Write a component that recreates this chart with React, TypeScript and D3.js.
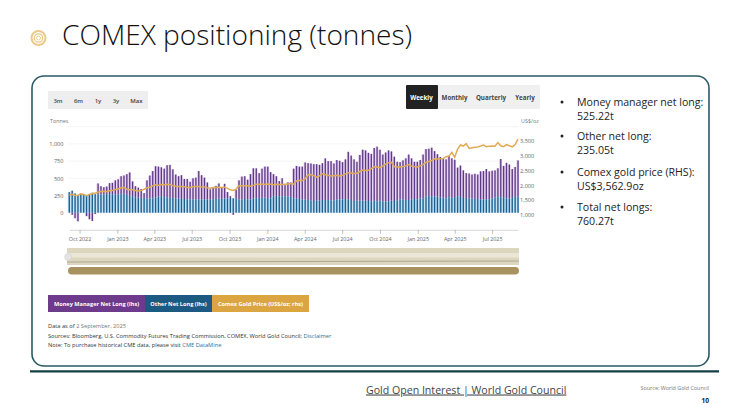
import React, { useRef, useEffect } from "react";
import * as d3 from "d3";

// tonnes, weekly from 6 Sep 2022 to 2 Sep 2025
const otherNetLong = [
  290, 320, 280, 255, 260, 265, 255, 260, 290, 270,
  265, 265, 265, 270, 270, 268, 262, 262, 270, 275, 260, 245,
  240, 225, 220, 215, 215, 205, 210, 205, 220, 235, 240, 225, 225, 215,
  215, 210, 205, 200, 200, 195, 195, 195, 190, 190, 195,
  195, 190, 190, 195, 200, 205, 200, 205, 210, 215, 210, 205, 190, 190,
  200, 195, 190, 205, 210, 215, 215, 220, 215, 205, 235, 245, 240, 235, 240, 235, 230, 210, 205, 200,
  190, 190, 185, 180, 170, 175, 180, 185, 185, 185, 180, 180, 190, 195, 195, 200, 195, 185, 170, 175, 175, 175, 175, 170,
  165, 175, 165, 180, 160, 165, 165, 175, 170, 180, 190, 195, 185, 185, 195, 200, 195, 205, 210, 235, 245, 240, 235, 235, 220, 220, 205, 225, 225,
  215, 240, 230, 215, 215, 205, 205, 200, 200, 190, 190, 195, 195, 205, 220, 240, 225, 225, 210, 205, 225, 230, 235,
];
const moneyManagerNetLong = [
  10, -30, -80, -125, 15, 5, -50, -95, -120, -20,
  160, 120, 105, 110, 160, 167, 208, 223, 260, 265, 300, 340,
  215, 160, 145, 130, 70, 265, 330, 400, 455, 435, 420, 415, 465, 480,
  415, 345, 325, 345, 290, 295, 255, 305, 320, 415, 350,
  315, 250, 150, 175, 190, 220, 170, 215, 90, 25, -30, 125, 280, 335,
  330, 285, 370, 440, 435, 360, 425, 450, 455, 385, 325, 285, 220, 265, 160, 205, 210, 430, 475, 470,
  480, 540, 535, 535, 535, 530, 515, 535, 605, 565, 570, 535, 575, 560, 540, 575, 690, 645, 605, 565, 665, 740, 730, 700,
  690, 765, 795, 735, 685, 710, 740, 715, 645, 560, 545, 565, 605, 660, 595, 540, 545, 560, 635, 690, 685, 705, 660, 615, 590, 570, 570, 600, 565,
  555, 415, 455, 400, 360, 365, 350, 365, 355, 410, 415, 440, 405, 405, 395, 405, 555, 455, 515, 495, 410, 435, 525,
];
// US$/oz
const goldPrice = [
  1680, 1700, 1660, 1670, 1720, 1690, 1650, 1700, 1720, 1740,
  1770, 1790, 1800, 1790, 1820, 1830, 1860,
  1880, 1920, 1930, 1870, 1850, 1850,
  1830, 1815, 1830, 1870, 1920, 1940, 1985,
  2020, 2000, 2030, 2020, 2040, 2030, 1990,
  1970, 1965, 1960, 1955, 1930, 1930, 1955, 1960, 1960, 1950,
  1945, 1920, 1905, 1925, 1930, 1940, 1930, 1940, 1900, 1850,
  1830, 1875, 1990, 1985, 1990, 1990, 1975, 2000, 2040, 2035,
  2045, 2030, 2050, 2035, 2020, 2040, 2030, 2030, 2040, 2050,
  2060, 2040, 2150, 2170, 2165,
  2230, 2350, 2370, 2330, 2280, 2320, 2400, 2360, 2340, 2320, 2330, 2340, 2320, 2340, 2390, 2430, 2415, 2400, 2410,
  2470, 2520, 2500, 2510, 2570, 2630, 2625, 2600, 2655, 2720, 2770, 2780, 2630, 2620, 2625, 2635, 2660, 2700, 2650, 2630,
  2620, 2660, 2700, 2780, 2810, 2840, 2900, 2890, 2900, 2905, 2970, 2990, 3115, 2950, 3230, 3365, 3330, 3410, 3250, 3270,
  3290, 3300, 3330, 3365, 3310, 3320, 3330, 3320, 3445, 3340, 3310, 3375, 3340, 3300, 3380, 3563,
];
const weeks = d3.timeDay.range(new Date(2022, 8, 6), new Date(2025, 8, 3), 7);
const leftTicks = [-250, 0, 250, 500, 750, 1000, 1250];
const leftLabels = [0, 250, 500, 750, 1000];
const rightTicks = [1000, 1500, 2000, 2500, 3000, 3500];
const rangeButtons = ["3m", "6m", "1y", "3y", "Max"];
const freqButtons = ["Weekly", "Monthly", "Quarterly", "Yearly"];
const legendItems = ["Money Manager Net Long (lhs)", "Other Net Long (lhs)", "Comex Gold Price (US$/oz; rhs)"];
const bullets = [
  ["Money manager net long:", "525.22t"],
  ["Other net long:", "235.05t"],
  ["Comex gold price (RHS):", "US$3,562.9oz"],
  ["Total net longs:", "760.27t"],
];

const FONT = "'Open Sans', 'Noto Sans', sans-serif";
const TEAL = "#2a5a66";

function App() {
  const chartRef = useRef<SVGGElement>(null);

  useEffect(() => {
    if (!chartRef.current) {
      return;
    }
    const g = d3.select(chartRef.current);
    g.selectAll("*").remove();

    const x = d3
      .scaleTime()
      .domain([weeks[0], weeks[weeks.length - 1]])
      .range([69.3, 518]);
    const y = d3.scaleLinear().domain([-250, 1250]).range([229.9, 126.7]);
    const yPrice = d3.scaleLinear().domain([1000, 3500]).range([215, 141]);
    const step = x(weeks[1]) - x(weeks[0]);

    // grid
    g.append("g")
      .selectAll("line")
      .data(leftTicks.filter((d) => d > -250))
      .join("line")
      .attr("x1", 68)
      .attr("x2", 519)
      .attr("y1", (d) => y(d))
      .attr("y2", (d) => y(d))
      .attr("stroke", "#f0f0f0")
      .attr("stroke-width", 0.7);

    const rows = weeks.map((date, i) => ({
      date,
      other: otherNetLong[i],
      mm: moneyManagerNetLong[i],
    }));

    const bar = (
      cls: string,
      fill: string,
      width: number,
      y0: (d: (typeof rows)[0]) => number,
      y1: (d: (typeof rows)[0]) => number,
      dx: number
    ) =>
      g.append("g")
        .attr("class", cls)
        .selectAll("rect")
        .data(rows)
        .join("rect")
        .attr("x", (d) => x(d.date) + dx)
        .attr("width", width)
        .attr("y", (d) => y(Math.max(y0(d), y1(d))))
        .attr("height", (d) => Math.abs(y(y0(d)) - y(y1(d))))
        .attr("fill", fill);

    const mmLow = (d: (typeof rows)[0]) => (d.mm < 0 ? d.mm : d.other);
    const mmHigh = (d: (typeof rows)[0]) => (d.mm < 0 ? 0 : d.other + d.mm);

    // pale halves sit behind the dark stripes
    bar("pale-mm", "#d9c0e8", step - 0.3, mmLow, mmHigh, -step / 2);
    bar("pale-other", "#a5d1f0", step - 0.3, () => 0, (d) => d.other, -step / 2);
    bar("dark-mm", "#5c3a85", 1.25, mmLow, mmHigh, -0.6);
    bar("dark-other", "#205e8a", 1.25, () => 0, (d) => d.other, -0.6);

    const priceLine = d3
      .line<Date>()
      .x((d) => x(d))
      .y((_, i) => yPrice(goldPrice[i]));
    g.append("path")
      .datum(weeks)
      .attr("fill", "none")
      .attr("stroke", "#e0ab55")
      .attr("stroke-width", 1.5)
      .attr("d", priceLine);

    // axes
    const xAxis = g
      .append("g")
      .attr("transform", `translate(0,${y(-250)})`)
      .call(
        d3
          .axisBottom(x)
          .ticks(d3.timeMonth.every(3) as d3.TimeInterval)
          .tickFormat(d3.timeFormat("%b %Y") as any)
          .tickSize(4)
          .tickSizeOuter(0)
      );
    xAxis.select(".domain").attr("stroke", "#dedede").attr("stroke-width", 1.4);
    xAxis.selectAll(".tick line").attr("stroke", "#888").attr("stroke-width", 0.5);
    xAxis
      .selectAll("text")
      .attr("fill", "#666")
      .attr("font-size", 5.4)
      .attr("font-family", FONT)
      .attr("y", 7);

    const leftAxis = g
      .append("g")
      .attr("transform", "translate(66.5,0)")
      .call(d3.axisLeft(y).tickValues(leftLabels).tickSize(0).tickFormat(d3.format(",") as any));
    leftAxis.select(".domain").remove();
    leftAxis
      .selectAll("text")
      .attr("fill", "#666")
      .attr("font-size", 5.6)
      .attr("font-family", FONT);

    const rightAxis = g
      .append("g")
      .attr("transform", "translate(517,0)")
      .call(d3.axisRight(yPrice).tickValues(rightTicks).tickSize(0).tickFormat(d3.format(",") as any));
    rightAxis.select(".domain").remove();
    rightAxis
      .selectAll("text")
      .attr("fill", "#666")
      .attr("font-size", 5.6)
      .attr("font-family", FONT);
  }, []);

  return (
    <svg
      width={740}
      height={416}
      style={{ position: "absolute", left: 0, top: 0, background: "#fff" }}
      fontFamily={FONT}
    >
      {/* title */}
      <g fill="none" stroke="#ecc98d">
        <circle cx={38.5} cy={38} r={7} strokeWidth={2} />
        <circle cx={38.5} cy={38} r={4.2} strokeWidth={1.2} />
        <circle cx={38.5} cy={38} r={2} strokeWidth={0.9} />
      </g>
      <text x={62} y={45} fontSize={28.1} fontWeight={300} fill="#111">
        COMEX positioning (tonnes)
      </text>

      {/* panel */}
      <rect x={32} y={76} width={677} height={290} rx={12} fill="#fff" stroke={TEAL} strokeWidth={1.6} />
      <line x1={30} x2={719} y1={371.3} y2={371.3} stroke="#123f48" strokeWidth={2.2} />

      {/* range buttons */}
      <rect x={48} y={91} width={100} height={18} fill="#eeeeee" rx={1} />
      {rangeButtons.map((d, i) => (
        <text
          key={d}
          x={[58, 78.5, 98, 116, 136.5][i]}
          y={102.5}
          textAnchor="middle"
          fontSize={6}
          fontWeight={600}
          fill="#444"
        >
          {d}
        </text>
      ))}
      <rect x={406} y={85} width={134} height={24} fill="#f0f0f0" rx={1} />
      <rect x={406} y={85} width={32} height={24} fill="#222222" rx={1} />
      {freqButtons.map((d, i) => (
        <text
          key={d}
          x={[421.5, 454.5, 491, 525][i]}
          y={99.5}
          textAnchor="middle"
          fontSize={6.2}
          fontWeight={700}
          fill={i === 0 ? "#fff" : "#444"}
        >
          {d}
        </text>
      ))}
      <text x={50} y={123} fontSize={5.4} fill="#777">
        Tonnes
      </text>
      <text x={521} y={123} fontSize={5.4} fill="#777">
        US$/oz
      </text>

      <g ref={chartRef} />

      {/* navigator */}
      <rect x={67} y={248} width={452} height={17} fill="#ddd6be" />
      <rect x={67} y={253} width={452} height={4.5} fill="#ebe6d6" />
      <line x1={67} x2={519} y1={262} y2={261} stroke="#a09c88" strokeWidth={0.8} />
      <circle cx={68} cy={257} r={3.4} fill="#e4e4e4" stroke="#ccc" strokeWidth={0.5} />
      <rect x={68} y={267} width={451} height={7.4} rx={3.7} fill="#a8925f" />

      {/* legend */}
      <rect x={48} y={295} width={97} height={17} fill="#6d3a8c" />
      <rect x={145} y={295} width={67} height={17} fill="#1c5a84" />
      <rect x={212} y={295} width={97} height={17} fill="#dba642" />
      {legendItems.map((d, i) => (
        <text
          key={d}
          x={[96.5, 178.5, 260.5][i]}
          y={305.5}
          textAnchor="middle"
          fontSize={5.6}
          fontWeight={700}
          fill="#fff"
        >
          {d}
        </text>
      ))}

      {/* notes */}
      <g fontSize={5.7} fill="#333">
        <text x={48} y={327.5}>
          Data as of <tspan fill="#777">2 September, 2025</tspan>
        </text>
        <text x={48} y={337.5}>
          Sources: Bloomberg, U.S. Commodity Futures Trading Commission, COMEX, World Gold Council;{" "}
          <tspan fill="#2f6f97">Disclaimer</tspan>
        </text>
        <text x={48} y={347}>
          Note: To purchase historical CME data, please visit <tspan fill="#2f6f97">CME DataMine</tspan>
        </text>
      </g>

      {/* bullets */}
      {bullets.map(([label, value], i) => (
        <g key={label} fontSize={10.6} fill="#222">
          <circle cx={562} cy={[102, 136, 172, 207][i]} r={1.5} fill="#222" />
          <text x={577} y={[106, 140, 176, 211][i]}>
            {label}
          </text>
          <text x={577} y={[120, 154, 190, 225][i]}>
            {value}
          </text>
        </g>
      ))}

      {/* footer */}
      <text x={366} y={393.5} fontSize={10.6} fill="#444" textDecoration="underline">
        Gold Open Interest | World Gold Council
      </text>
      <text x={709} y={390} textAnchor="end" fontSize={5.4} fill="#777">
        Source: World Gold Council
      </text>
      <text x={709} y={403} textAnchor="end" fontSize={6.6} fontWeight={700} fill="#222">
        10
      </text>
    </svg>
  );
}

export default App;
